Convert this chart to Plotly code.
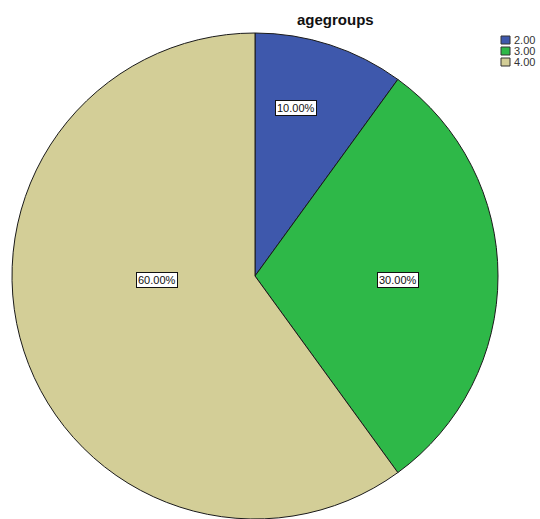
import plotly.graph_objects as go

categories = ["2.00", "3.00", "4.00"]
values = [10, 30, 60]
colors = ["#3E58AC", "#2EB848", "#D3CE97"]
label_texts = ["10.00%", "30.00%", "60.00%"]
title_text = "agegroups"

W, H = 540, 519
ML, MR, MT, MB = 12, 42, 33, 0
PW, PH = W - ML - MR, H - MT - MB


def px(x):
    return (x - ML) / PW


def py(y):
    return (H - MB - y) / PH


fig = go.Figure(go.Pie(
    labels=categories,
    values=values,
    sort=False,
    direction="clockwise",
    rotation=0,
    marker=dict(colors=colors, line=dict(color="#1a1a1a", width=1)),
    textinfo="none",
    hoverinfo="label+percent",
    showlegend=False,
    domain=dict(x=[0, 1], y=[0, 1]),
))

annotations = []
shapes = []

# title
annotations.append(dict(
    text="<b>" + title_text + "</b>", x=px(335), y=py(19), xref="paper", yref="paper",
    showarrow=False, xanchor="center", yanchor="middle",
    font=dict(family="Liberation Sans, Arial", size=15, color="#111111"),
))

# slice labels (boxed)
label_pos = [(296, 108), (398, 280), (157, 280)]
for t, (lx, ly) in zip(label_texts, label_pos):
    annotations.append(dict(
        text=t, x=px(lx), y=py(ly), xref="paper", yref="paper",
        showarrow=False, xanchor="center", yanchor="middle",
        font=dict(family="Liberation Sans, Arial", size=11, color="#111111"),
        bgcolor="white", bordercolor="#111111", borderwidth=1, borderpad=1,
    ))

# custom legend
for i, (c, col) in enumerate(zip(categories, colors)):
    cy = 40 + i * 11
    shapes.append(dict(
        type="rect", xref="paper", yref="paper",
        x0=px(501), x1=px(510), y0=py(cy - 4), y1=py(cy + 4),
        fillcolor=col, line=dict(color="#333333", width=1),
    ))
    annotations.append(dict(
        text=c, x=px(512), y=py(cy), xref="paper", yref="paper",
        showarrow=False, xanchor="left", yanchor="middle",
        font=dict(family="Liberation Sans, Arial", size=11, color="#333333"),
    ))

fig.update_layout(
    width=W, height=H,
    margin=dict(l=ML, r=MR, t=MT, b=MB, pad=0),
    paper_bgcolor="white", plot_bgcolor="white",
    annotations=annotations, shapes=shapes,
)

fig.write_html("out.html")
